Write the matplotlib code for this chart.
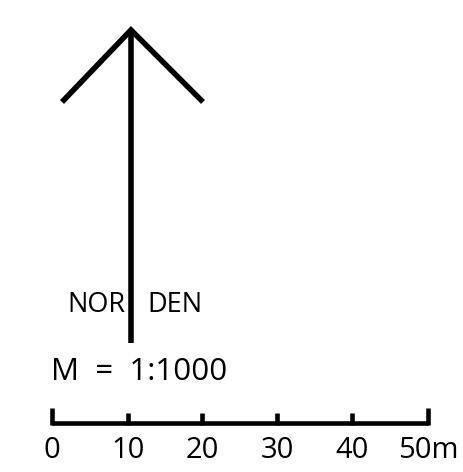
import matplotlib
matplotlib.use("Agg")
import matplotlib.pyplot as plt

# north arrow (pixel coords, y down)
arrow_x = [62, 131, 203]
arrow_y = [102, 30, 102]
shaft_x = [131, 131]
shaft_y = [30, 343]

# scale bar
bar_x = [52, 128, 202, 277, 352, 428]
bar_labels = ["0", "10", "20", "30", "40", "50m"]
tick_top = [408, 413, 413, 413, 413, 408]
bar_y = 423

plt.rcParams['font.family'] = ['Open Sans', 'DejaVu Sans']

fig = plt.figure(figsize=(4.63, 4.72), dpi=100)
ax = fig.add_axes([0, 0, 1, 1])
ax.set_xlim(0, 463)
ax.set_ylim(472, 0)
ax.axis("off")

ax.plot(arrow_x, arrow_y, color="black", lw=4, solid_joinstyle="miter", solid_capstyle="butt")
ax.plot(shaft_x, shaft_y, color="black", lw=4, solid_capstyle="butt")

ax.text(125, 312, "NOR", ha="right", va="baseline", fontsize=19.5)
ax.text(147, 312, "DEN", ha="left", va="baseline", fontsize=19.5)
ax.text(51, 380, "M  =  1:1000", ha="left", va="baseline", fontsize=22.5)

ax.plot([bar_x[0], bar_x[-1]], [bar_y, bar_y], color="black", lw=3.3, solid_capstyle="butt")
for x, t in zip(bar_x, tick_top):
    ax.plot([x, x], [t, bar_y + 1.6], color="black", lw=3.3, solid_capstyle="butt")
for x, lab in zip(bar_x, bar_labels):
    ax.text(x, 458, lab, ha="center", va="baseline", fontsize=21)

fig.savefig("out.png", dpi=100)
